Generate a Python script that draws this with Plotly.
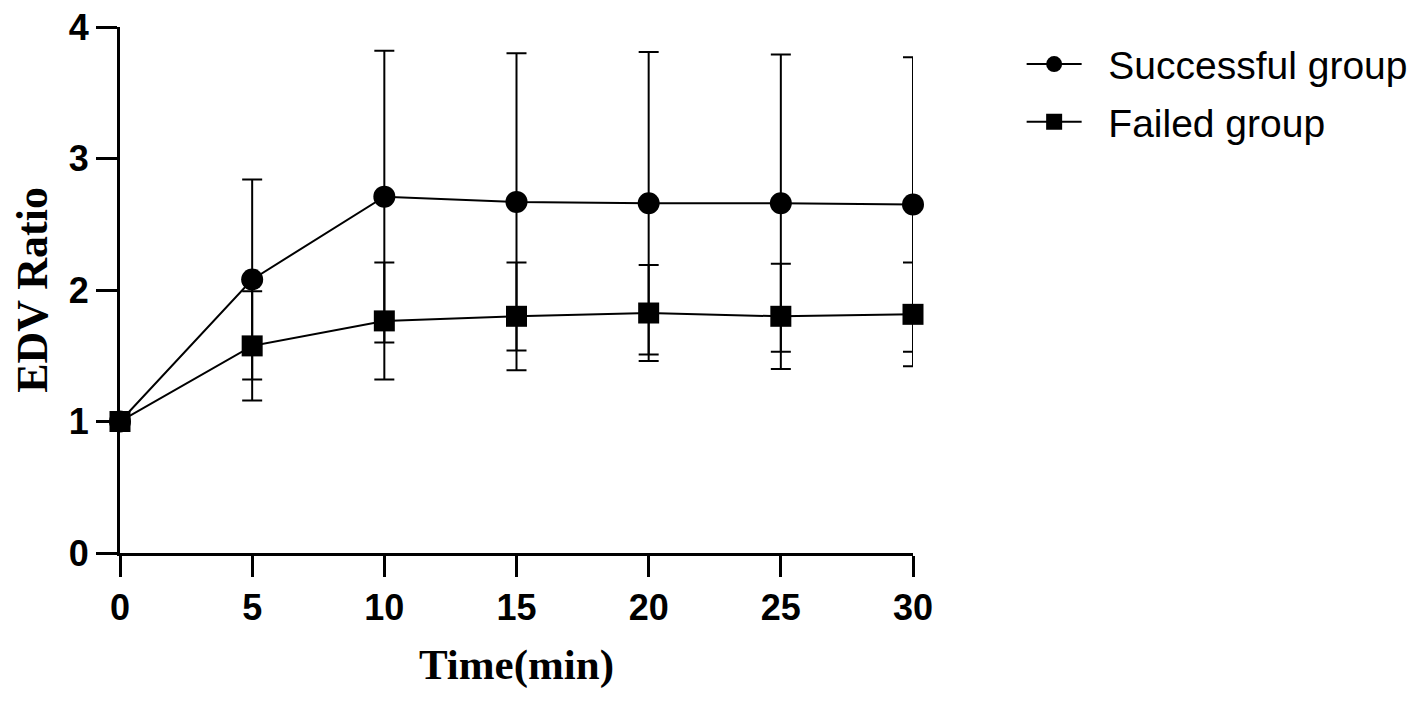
import plotly.graph_objects as go

# time points (min)
time_min = [0, 5, 10, 15, 20, 25, 30]

# EDV ratio, mean and SD
success_mean = [1.00, 2.08, 2.71, 2.67, 2.66, 2.66, 2.65]
success_sd = [0.00, 0.76, 1.11, 1.13, 1.15, 1.13, 1.12]

failed_mean = [1.00, 1.575, 1.765, 1.80, 1.825, 1.80, 1.815]
failed_sd = [0.00, 0.415, 0.445, 0.41, 0.365, 0.40, 0.395]

x_ticks = [0, 5, 10, 15, 20, 25, 30]
y_ticks = [0, 1, 2, 3, 4]

fig = go.Figure()

fig.add_trace(go.Scatter(
    x=time_min, y=success_mean,
    name="\u00a0\u00a0Successful group", legendgroup="s",
    mode="lines+markers",
    line=dict(color="black", width=2),
    marker=dict(symbol="circle", size=22, color="black"),
    error_y=dict(type="data", array=success_sd, visible=True,
                 color="black", thickness=2, width=10),
    cliponaxis=False,
))

fig.add_trace(go.Scatter(
    x=time_min, y=failed_mean,
    name="\u00a0\u00a0Failed group", legendgroup="f",
    mode="lines+markers",
    line=dict(color="black", width=2),
    marker=dict(symbol="square", size=21, color="black"),
    error_y=dict(type="data", array=failed_sd, visible=True,
                 color="black", thickness=2, width=10),
    cliponaxis=False,
))

tick_font = dict(family="Liberation Sans, Arial", size=36, color="black", weight="bold")

fig.update_xaxes(
    range=[0, 30], tickvals=x_ticks, automargin=False,
    showline=True, linecolor="black", linewidth=3,
    ticks="outside", ticklen=21, tickwidth=3, tickcolor="black",
    showgrid=False, zeroline=False, ticklabeloverflow="allow",
    tickfont=tick_font,
    title=dict(text="<b>Time(min)</b>",
               font=dict(family="Liberation Serif, Times New Roman", size=43, color="black"),
               standoff=22),
)
fig.update_yaxes(
    range=[0, 4], tickvals=y_ticks, automargin=False,
    showline=True, linecolor="black", linewidth=3,
    ticks="outside", ticklen=21, tickwidth=3, tickcolor="black",
    showgrid=False, zeroline=False, ticklabeloverflow="allow",
    tickfont=tick_font,
    title=dict(text="<b>EDV Ratio</b>",
               font=dict(family="Liberation Serif, Times New Roman", size=44, color="black"),
               standoff=20),
)

# page body adds an 8px offset, so margins are shifted to compensate
fig.update_layout(
    width=1418, height=704,
    margin=dict(l=112, r=513, t=19, b=159, autoexpand=False),
    plot_bgcolor="white", paper_bgcolor="white",
    legend=dict(
        x=1.137, y=0.99, xanchor="left", yanchor="top",
        font=dict(family="Liberation Sans, Arial", size=39, color="black"),
        tracegroupgap=4, itemwidth=55, bgcolor="rgba(0,0,0,0)",
    ),
)

fig.write_html("out.html")
